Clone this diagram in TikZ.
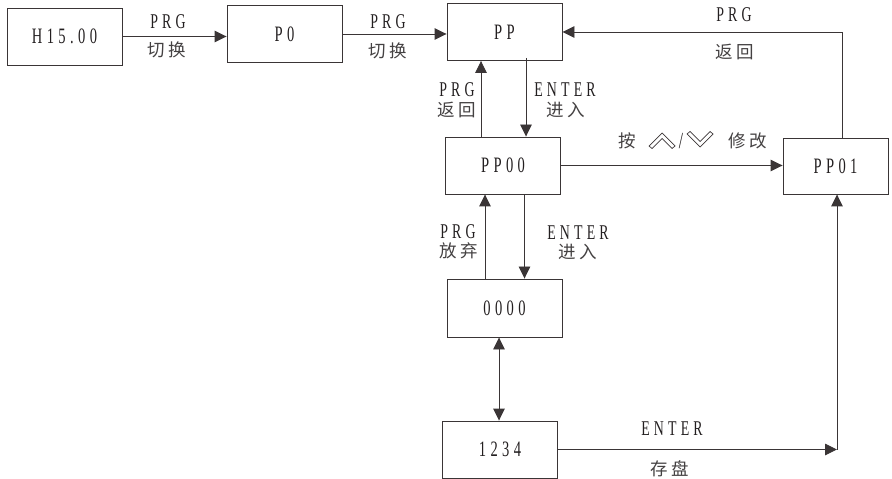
\documentclass[tikz,border=0pt]{standalone}
\usepackage{fontspec}
\setmainfont[FakeStretch=0.66,LetterSpace=20]{Liberation Serif}
\newfontfamily\cjk[LetterSpace=19]{Noto Sans CJK SC}
\usetikzlibrary{arrows.meta,calc}
\definecolor{ink}{HTML}{231F20}
\definecolor{ln}{HTML}{3A3536}
\tikzset{
  box/.style={draw=ln,line width=0.9bp,rectangle,inner sep=0pt,minimum width=115bp,minimum height=57bp,text=ink,font=\fontsize{22bp}{24bp}\selectfont},
  lab/.style={inner sep=0pt,text=ink,font=\fontsize{21bp}{23bp}\selectfont},
  clab/.style={inner sep=0pt,text=ink!85,font=\fontsize{17.5bp}{20bp}\selectfont\cjk},
  conn/.style={draw=ln,line width=0.9bp,-{Triangle[length=12bp,width=11.5bp]}},
  dconn/.style={draw=ln,line width=0.9bp,{Triangle[length=12bp,width=11.5bp]}-{Triangle[length=12bp,width=11.5bp]}},
  chev/.style={draw=ln,line width=0.7bp,line join=miter}
}
\begin{document}
\begin{tikzpicture}[x=1bp,y=-1bp]
\useasboundingbox (0,0) rectangle (892,479);
% boxes
\node[box] (h) at (64.5,36.5) {H15.00};
\node[box] (p0) at (284.5,34) {P0};
\node[box] (pp) at (504.5,32) {PP};
\node[box] (pp00) at (503,165.5) {PP00};
\node[box,minimum width=105bp,minimum height=56bp] (pp01) at (835.5,166) {PP01};
\node[box,minimum height=58bp] (z) at (504.5,308) {0000};
\node[box] (n) at (500,449.5) {1234};
% connectors
\draw[conn] (h.east) -- (h.east -| p0.west);
\draw[conn] (p0.east) -- (p0.east -| pp.west);
\draw[conn] ([xshift=-22bp]pp00.north) -- ([xshift=-22bp]pp00.north |- pp.south);
\draw[conn] ([xshift=23bp,yshift=3bp]pp00.north |- pp.south) -- ([xshift=23bp]pp00.north);
\draw[conn] (pp00.east) -- (pp00.east -| pp01.west);
\draw[conn] ([xshift=6.5bp]pp01.north) |- (pp.east);
\draw[conn] ([xshift=-19.5bp]z.north) -- ([xshift=-19.5bp]z.north |- pp00.south);
\draw[conn] ([xshift=21.5bp]pp00.south) -- ([xshift=21.5bp]pp00.south |- z.north);
\draw[dconn] ([xshift=-5.5bp]z.south) -- ([xshift=-5.5bp]z.south |- n.north);
\coordinate (c) at ([xshift=1.5bp]pp01.south |- n.east);
\draw[conn] (n.east) -- (c);
\draw[conn] (c) -- ([xshift=1.5bp]pp01.south);
% labels
\node[lab] (l1) at (168,22) {PRG};
\node[clab] (l2) at (167,50) {切换};
\node[lab] (l3) at (388,22) {PRG};
\node[clab] (l4) at (388,51) {切换};
\node[lab] (l5) at (734,15) {PRG};
\node[clab] (l6) at (735,52) {返回};
\node[lab] (l7) at (457,90) {PRG};
\node[clab] (l8) at (457,110) {返回};
\node[lab] (l9) at (565,90) {ENTER};
\node[clab] (l10) at (566,110) {进入};
\node[lab] (l11) at (458,232) {PRG};
\node[clab] (l12) at (459,251) {放弃};
\node[lab] (l13) at (578,233) {ENTER};
\node[clab] (l14) at (578,252) {进入};
\node[lab] (l15) at (672,429) {ENTER};
\node[clab] (l16) at (670,469) {存盘};
\node[clab] (l17) at (627,141) {按};
\node[lab,font=\fontsize{23bp}{24bp}\selectfont] (l18) at (681,141) {/};
\node[clab] (l19) at (748,141) {修改};
% chevrons
\draw[chev] (649,146) -- (662,133) -- (675,146) -- (672,148.5) -- (662,138.5) -- (652,148.5) -- cycle;
\draw[chev] (687,134) -- (700,147) -- (713,134) -- (710,131.5) -- (700,141.5) -- (690,131.5) -- cycle;
\end{tikzpicture}
\end{document}
